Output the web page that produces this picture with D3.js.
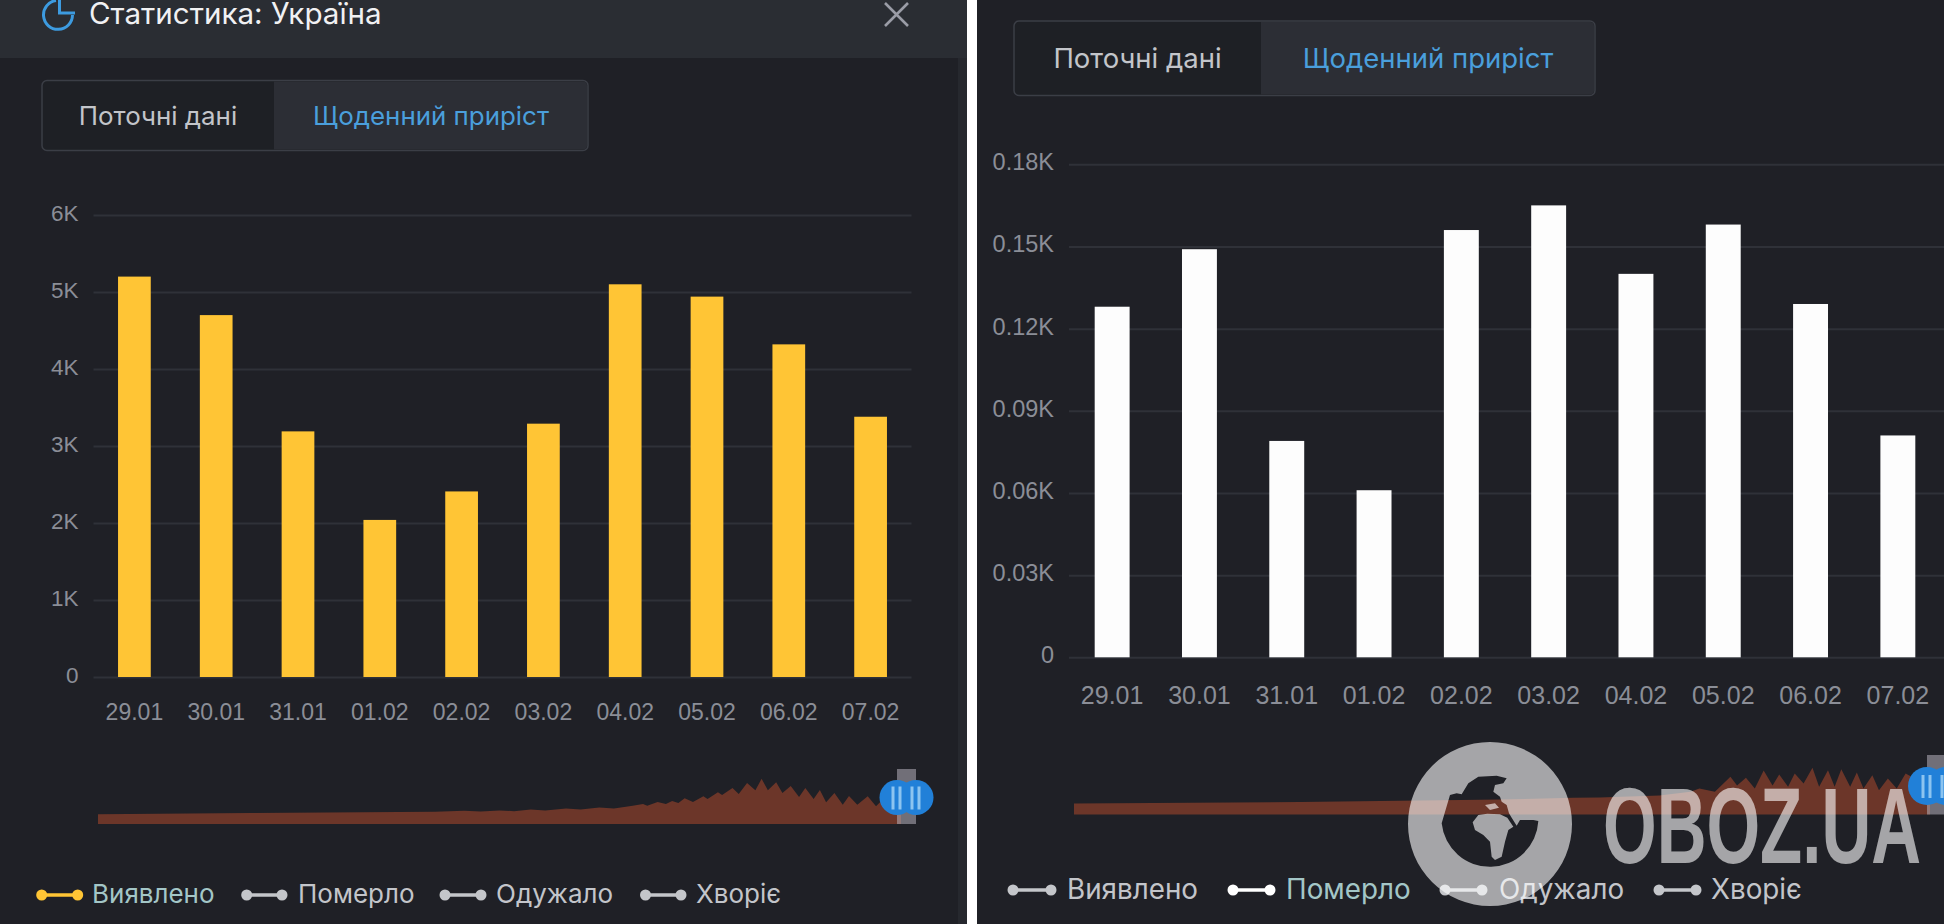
<!DOCTYPE html>
<html>
<head>
<meta charset="utf-8">
<script src="https://cdn.jsdelivr.net/npm/d3@7"></script>
<style>
  html, body { margin: 0; background: #fff; overflow: hidden; }
  svg { display: block; font-family: Inter, Roboto, sans-serif; }
  .grid line { stroke: #2f3138; stroke-width: 2; }
  .grid path, .xaxis path { display: none; }
  .grid text, .xaxis text { fill: #8b8e97; }
</style>
</head>
<body>
<svg id="chart" width="1944" height="924"></svg>
<script>
// daily values
let dates = ["29.01", "30.01", "31.01", "01.02", "02.02", "03.02", "04.02", "05.02", "06.02", "07.02"]
let confirmed = [5200, 4700, 3190, 2040, 2410, 3290, 5100, 4940, 4320, 3380]
let deaths = [128, 149, 79, 61, 156, 165, 140, 158, 129, 81]

let confirmedTicks = [0, 1000, 2000, 3000, 4000, 5000, 6000]
let deathTicks = [0, 30, 60, 90, 120, 150, 180]

// overview strips under the charts: day number and height of the silhouette
let overviewDaysLeft = [0, 73, 162, 176, 184, 193, 200, 208, 215, 225, 232, 241, 248, 257, 262, 264, 269, 273, 276, 279, 282, 286, 291, 293, 298, 300, 305, 308, 312, 316, 319, 322, 326, 329, 333, 337, 340, 344, 347, 350, 354, 358, 361, 365, 370, 374, 377, 384, 386]
let overviewLeft = [9.7, 11, 12.3, 13.2, 12.4, 13.6, 12.8, 14.4, 13.6, 15.4, 14.4, 16.6, 15.6, 18.3, 20, 18.3, 22, 20, 23, 21, 25.7, 22, 27.7, 25, 31.7, 29, 36, 30, 41, 33.7, 45.3, 33.7, 41.7, 31, 38, 27, 36, 25, 34, 21.7, 31, 19.3, 28, 19.3, 27.7, 17.7, 24, 27, 26]
let overviewDaysRight = [0, 102, 192, 225, 237, 264, 278, 282, 289, 296, 299, 303, 307, 311, 315, 318, 322, 325, 329, 333, 336, 340, 343, 346, 350, 353, 356, 360, 363, 367, 371, 375, 384, 386]
let overviewRight = [11, 12.5, 15, 16.7, 17, 19, 22.7, 26, 22.7, 37.7, 29, 36.7, 26, 44, 29, 40, 27.7, 41, 31, 46.7, 27.7, 44.3, 27.7, 45.3, 27.7, 42, 26, 39.3, 24.3, 36, 26, 41, 30, 28]

let legendLabels = ["Виявлено", "Померло", "Одужало", "Хворіє"]
let tabLabels = ["Поточні дані", "Щоденний приріст"]

let svg = d3.select("#chart")

function kFormat(v) {
  return v === 0 ? "0" : (v / 1000) + "K"
}

function drawPanel(p) {
  let g = svg.append("g")

  g.append("rect").attr("x", p.left).attr("y", 0).attr("width", p.width).attr("height", 924).attr("fill", "#1f2026")

  // tabs
  let tw = p.tabs
  g.append("rect").attr("x", tw.x0).attr("y", tw.y0).attr("width", tw.x1 - tw.x0).attr("height", tw.y1 - tw.y0)
    .attr("rx", 5).attr("fill", "#1e2025").attr("stroke", "#3b3e46").attr("stroke-width", 1.5)
  g.append("path")
    .attr("d", `M${tw.mid},${tw.y0 + 1}H${tw.x1 - 5}Q${tw.x1 - 1},${tw.y0 + 1} ${tw.x1 - 1},${tw.y0 + 5}V${tw.y1 - 5}Q${tw.x1 - 1},${tw.y1 - 1} ${tw.x1 - 5},${tw.y1 - 1}H${tw.mid}Z`)
    .attr("fill", "#2c2e35")
  g.selectAll(".tab").data(tabLabels).enter().append("text")
    .attr("class", "tab")
    .attr("x", (d, i) => i == 0 ? (tw.x0 + tw.mid) / 2 : (tw.mid + tw.x1) / 2)
    .attr("y", (tw.y0 + tw.y1) / 2)
    .attr("dy", "0.35em")
    .attr("text-anchor", "middle")
    .attr("font-size", p.fonts.tab)
    .attr("fill", (d, i) => i == 0 ? "#c3c5ca" : "#4a9fdc")
    .text(d => d)

  // scales
  let x = d3.scaleBand().domain(dates).range(p.barRange).paddingInner(0.6).paddingOuter(0.3)
  let y = d3.scaleLinear().domain([0, d3.max(p.ticks)]).range(p.yRange)

  g.append("g")
    .attr("class", "grid")
    .attr("transform", `translate(${p.gridX[0]},0)`)
    .call(d3.axisLeft(y).tickValues(p.ticks).tickFormat(kFormat).tickSize(-(p.gridX[1] - p.gridX[0])).tickPadding(15))
    .call(a => a.selectAll("text").attr("font-size", p.fonts.tick).attr("transform", "translate(0,-2)"))

  g.append("g")
    .attr("class", "xaxis")
    .attr("transform", `translate(0,${p.yRange[0]})`)
    .call(d3.axisBottom(x).tickSize(0).tickPadding(p.datePad))
    .call(a => a.selectAll("text").attr("font-size", p.fonts.date))

  g.selectAll(".bar").data(p.values).enter().append("rect")
    .attr("class", "bar")
    .attr("x", (d, i) => x(dates[i]))
    .attr("y", d => y(d))
    .attr("width", x.bandwidth())
    .attr("height", d => y(0) - y(d))
    .attr("fill", p.barColor)

  // overview strip
  let ox = d3.scaleLinear().domain([0, 386]).range(p.overviewX)
  let oy = d3.scaleLinear().domain([0, 50]).range([p.overviewBase, p.overviewBase - 50])
  let area = d3.area().x((d, i) => ox(p.overviewDays[i])).y0(oy(0)).y1(d => oy(d))
  g.append("path").datum(p.overviewValues).attr("d", area).attr("fill", "#6c3629")

  let h = p.handle
  g.append("rect").attr("x", h.x).attr("y", h.top).attr("width", h.w).attr("height", p.overviewBase - h.top).attr("fill", "#b4b1bb").attr("opacity", 0.55)
  g.selectAll(".knob").data([h.x, h.x + h.w]).enter().append("circle")
    .attr("class", "knob").attr("cx", d => d).attr("cy", h.cy).attr("r", h.r).attr("fill", "#2180d8")
  g.selectAll(".grip").data([h.x - 4, h.x + 3, h.x + h.w - 4, h.x + h.w + 3]).enter().append("rect")
    .attr("class", "grip").attr("x", d => d - 1.5).attr("y", h.cy - 11).attr("width", 3).attr("height", 23)
    .attr("fill", "#8cc4f0")

  // legend
  let leg = g.selectAll(".legend").data(legendLabels).enter().append("g")
    .attr("class", "legend")
    .attr("transform", `translate(0,${p.legendY})`)
  leg.append("line")
    .attr("x1", (d, i) => p.legendMarkers[i][0]).attr("x2", (d, i) => p.legendMarkers[i][1])
    .attr("stroke", (d, i) => i == p.active ? p.activeMarker : "#c4c6ca").attr("stroke-width", 3.5)
  leg.selectAll("circle").data((d, i) => p.legendMarkers[i].map(m => ({ m: m, i: i }))).enter().append("circle")
    .attr("cx", d => d.m).attr("r", 5.5)
    .attr("fill", d => d.i == p.active ? p.activeMarker : "#c4c6ca")
  leg.append("text")
    .attr("x", (d, i) => p.legendText[i])
    .attr("y", -1)
    .attr("dy", "0.35em")
    .attr("font-size", p.fonts.legend)
    .attr("fill", (d, i) => i == p.active ? "#a3c6c7" : "#c3c5ca")
    .text(d => d)
}

drawPanel({
  left: 0, width: 967,
  tabs: { x0: 42, x1: 588, y0: 80.5, y1: 150.5, mid: 274 },
  barRange: [93.5, 911.5], gridX: [93.5, 911.5], yRange: [677, 215],
  ticks: confirmedTicks, values: confirmed, barColor: "#ffc535", datePad: 27,
  overviewX: [98, 901], overviewBase: 824,
  overviewDays: overviewDaysLeft, overviewValues: overviewLeft,
  handle: { x: 897, w: 19, top: 769, cy: 797.5, r: 17.5 },
  legendY: 895, active: 0, activeMarker: "#ffc535",
  legendMarkers: [[41.7, 77.7], [246.7, 282], [445, 481], [645.5, 681]],
  legendText: [92, 298, 496, 696],
  fonts: { tab: 25.9, tick: 22.5, date: 23, legend: 26 }
})

drawPanel({
  left: 977, width: 967,
  tabs: { x0: 1014, x1: 1595, y0: 21, y1: 95.5, mid: 1261 },
  barRange: [1068.5, 1941.5], gridX: [1069, 1944], yRange: [657.3, 164.3],
  ticks: deathTicks, values: deaths, barColor: "#fdfdfd", datePad: 29,
  overviewX: [1074, 1930], overviewBase: 814.5,
  overviewDays: overviewDaysRight, overviewValues: overviewRight,
  handle: { x: 1927, w: 19, top: 755, cy: 786, r: 19 },
  legendY: 890, active: 1, activeMarker: "#ffffff",
  legendMarkers: [[1013, 1051], [1233, 1270], [1445, 1482], [1659, 1696]],
  legendText: [1067, 1286, 1499, 1711],
  fonts: { tab: 27.5, tick: 23.5, date: 25, legend: 27.8 }
})

// header of the left panel and the lighter strip at its right edge
svg.append("rect").attr("x", 958).attr("y", 58).attr("width", 9).attr("height", 866).attr("fill", "#26282e")
svg.append("rect").attr("width", 967).attr("height", 58).attr("fill", "#2a2d33")
svg.append("path").attr("fill", "none").attr("stroke", "#3d9be0").attr("stroke-width", 3)
  .attr("d", "M72.5,15A14.5,14.5 0 1 1 56,0.5")
svg.append("path").attr("fill", "none").attr("stroke", "#3d9be0").attr("stroke-width", 3)
  .attr("d", "M59.5,0V13H75")
svg.append("text").attr("x", 89).attr("y", 14).attr("dy", "0.35em").attr("font-size", 29.6).attr("fill", "#f1f1f3").text("Статистика: Україна")
svg.append("path").attr("fill", "none").attr("stroke", "#9a9ca6").attr("stroke-width", 2.6)
  .attr("d", "M885,3L908,26M908,3L885,26")

// watermark
let wm = svg.append("g").attr("fill", "#fff").attr("fill-opacity", 0.6)
let hole = [[415,258],[400,255],[360,255],[350,272],[335,248],[327,235],[320,210],[305,200],[300,185],[280,170],[285,150],[310,145],[320,130],[290,122],[235,125],[205,145],[185,178],[170,175],[150,180]]
let africa = [[218,262],[235,240],[262,236],[300,238],[322,248],[340,275],[325,285],[315,320],[305,365],[285,375],[275,365],[270,320],[250,300],[225,285]]
let europe = [[255,210],[285,205],[297,218],[270,225]]
let zx = v => 1400 + v / 3
let zy = v => 735 + v / 3
let poly = pts => pts.map((d, i) => (i ? "L" : "M") + zx(d[0]) + "," + zy(d[1])).join("")
wm.append("path").attr("fill-rule", "evenodd")
  .attr("d", "M1408,824a82,82 0 1 0 164,0a82,82 0 1 0 -164,0Z"
    + poly(hole) + `L${zx(125)},${zy(265)}A48.5,48.5 0 0 0 ${zx(415)},${zy(258)}Z`
    + poly(africa) + "Z" + poly(europe) + "Z")
wm.append("text").attr("x", 1603).attr("y", 863)
  .attr("font-family", "'Liberation Sans Narrow', 'Liberation Sans', sans-serif")
  .attr("font-weight", 700).attr("font-size", 108)
  .attr("textLength", 318).attr("lengthAdjust", "spacingAndGlyphs")
  .text("OBOZ.UA")
</script>
</body>
</html>
